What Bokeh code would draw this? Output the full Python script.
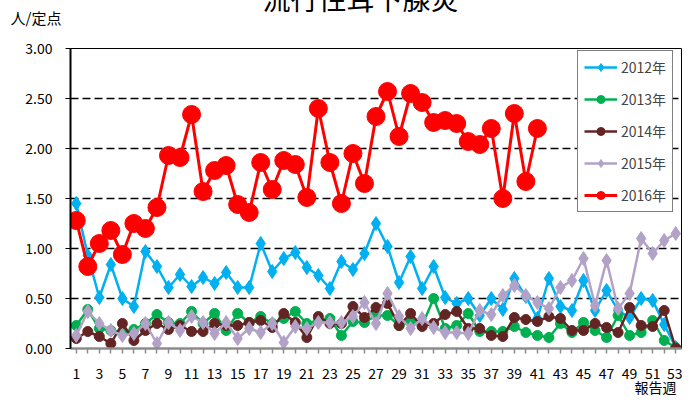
from bokeh.plotting import figure
from bokeh.models import FixedTicker, Legend, LegendItem, Title
from bokeh.embed import file_html
from bokeh.resources import INLINE

weeks = list(range(1, 54))
weeks_2016 = list(range(1, 42))

v2012 = [1.45, 0.93, 0.51, 0.84, 0.50, 0.42, 0.97, 0.82, 0.61, 0.74, 0.62, 0.71, 0.65, 0.76, 0.61, 0.61,
         1.05, 0.77, 0.90, 0.96, 0.81, 0.73, 0.60, 0.87, 0.79, 0.95, 1.25, 1.02, 0.66, 0.92, 0.60, 0.82,
         0.51, 0.45, 0.50, 0.33, 0.50, 0.39, 0.70, 0.52, 0.30, 0.70, 0.42, 0.38, 0.68, 0.38, 0.58, 0.38,
         0.31, 0.50, 0.48, 0.24, 0.01]
v2013 = [0.23, 0.39, 0.20, 0.18, 0.16, 0.19, 0.25, 0.34, 0.26, 0.25, 0.37, 0.25, 0.35, 0.18, 0.35, 0.26,
         0.32, 0.25, 0.30, 0.37, 0.25, 0.28, 0.30, 0.13, 0.27, 0.26, 0.33, 0.33, 0.23, 0.27, 0.23, 0.50,
         0.20, 0.23, 0.35, 0.17, 0.17, 0.17, 0.22, 0.16, 0.13, 0.11, 0.25, 0.16, 0.26, 0.18, 0.11, 0.33,
         0.13, 0.16, 0.28, 0.08, 0.01]
v2014 = [0.10, 0.17, 0.12, 0.05, 0.25, 0.08, 0.18, 0.25, 0.19, 0.23, 0.17, 0.17, 0.25, 0.23, 0.23, 0.26,
         0.28, 0.21, 0.35, 0.26, 0.11, 0.32, 0.25, 0.25, 0.42, 0.31, 0.41, 0.45, 0.23, 0.35, 0.22, 0.25,
         0.34, 0.37, 0.20, 0.20, 0.13, 0.12, 0.31, 0.29, 0.27, 0.32, 0.30, 0.18, 0.18, 0.25, 0.21, 0.16,
         0.41, 0.23, 0.22, 0.38, 0.00]
v2015 = [0.13, 0.37, 0.25, 0.18, 0.13, 0.15, 0.25, 0.05, 0.26, 0.18, 0.32, 0.26, 0.15, 0.26, 0.10, 0.20,
         0.16, 0.25, 0.06, 0.22, 0.20, 0.26, 0.26, 0.26, 0.32, 0.46, 0.25, 0.55, 0.32, 0.20, 0.30, 0.21,
         0.16, 0.16, 0.15, 0.38, 0.34, 0.53, 0.63, 0.53, 0.46, 0.40, 0.61, 0.68, 0.90, 0.43, 0.88, 0.40,
         0.55, 1.10, 0.95, 1.08, 1.15]
v2016 = [1.28, 0.82, 1.05, 1.18, 0.94, 1.25, 1.20, 1.41, 1.93, 1.91, 2.34, 1.57, 1.78, 1.83, 1.44, 1.36,
         1.86, 1.59, 1.88, 1.84, 1.51, 2.40, 1.86, 1.45, 1.95, 1.65, 2.32, 2.57, 2.12, 2.55, 2.46, 2.26,
         2.28, 2.25, 2.07, 2.04, 2.20, 1.50, 2.35, 1.67, 2.20]

series_names = ["2012年", "2013年", "2014年", "2015年", "2016年"]
x_tick_labels = {w: (str(w) if w % 2 == 1 else "") for w in weeks}
y_ticks = [0.0, 0.5, 1.0, 1.5, 2.0, 2.5, 3.0]
y_tick_labels = {t: f"{t:.2f}" for t in y_ticks}

title_text = "流行性耳下腺炎"
y_title = "人/定点"
x_title = "報告週"

FONT = "Noto Sans CJK JP"

p = figure(width=682, height=398, x_range=(0.5, 53.5), y_range=(0, 3),
           output_backend="svg", toolbar_location=None,
           min_border_left=70, min_border_right=1, min_border_top=48, min_border_bottom=50)

p.outline_line_color = "black"
p.outline_line_width = 1
p.xgrid.visible = False
p.ygrid.grid_line_color = "black"
p.ygrid.grid_line_dash = "8 4"
p.ygrid.grid_line_width = 1.4

p.xaxis.ticker = FixedTicker(ticks=weeks)
p.xaxis.major_label_overrides = x_tick_labels
p.xaxis.axis_line_color = "#8c8c8c"
p.xaxis.axis_line_width = 2.5
p.xaxis.major_tick_line_color = "#8c8c8c"
p.xaxis.major_tick_line_width = 1.5
p.xaxis.major_tick_in = 0
p.xaxis.major_tick_out = 5
p.xaxis.minor_tick_line_color = None
p.xaxis.major_label_standoff = 14
p.xaxis.major_label_text_font = FONT
p.xaxis.major_label_text_font_size = "14px"
p.xaxis.major_label_text_color = "black"

p.yaxis.ticker = FixedTicker(ticks=y_ticks)
p.yaxis.major_label_overrides = y_tick_labels
p.yaxis.axis_line_color = "black"
p.yaxis.axis_line_width = 2
p.yaxis.major_tick_line_color = "black"
p.yaxis.major_tick_in = 0
p.yaxis.major_tick_out = 5
p.yaxis.minor_tick_line_color = None
p.yaxis.major_label_standoff = 13
p.yaxis.major_label_text_font = FONT
p.yaxis.major_label_text_font_size = "14px"
p.yaxis.major_label_text_color = "black"

styles = [
    (weeks, v2012, "#00B0F0", "diamond", 14, 2.5),
    (weeks, v2013, "#00B050", "circle", 10, 2.5),
    (weeks, v2014, "#632523", "circle", 10, 2.5),
    (weeks, v2015, "#B3A2C7", "diamond", 14, 2.5),
    (weeks_2016, v2016, "#FF0000", "circle", 18, 3),
]

items = []
for (xs, ys, color, marker, size, lw), name in zip(styles, series_names):
    l = p.line(xs, ys, line_color=color, line_width=lw)
    s = p.scatter(xs, ys, marker=marker, size=size, fill_color=color, line_color=color)
    items.append(LegendItem(label=name, renderers=[l, s]))

legend = Legend(items=items, location=(507, 136))
legend.label_text_font = FONT
legend.label_text_font_size = "14px"
legend.label_height = 20
legend.glyph_height = 20
legend.glyph_width = 33
legend.spacing = 12
legend.padding = 6
legend.margin = 0
legend.label_standoff = 4
legend.border_line_color = "black"
legend.border_line_width = 1
legend.background_fill_alpha = 1
p.add_layout(legend, "center")

# titles: negative standoffs keep their layout size at zero, so the frame keeps its place;
# the main title is shifted upward so that only its lower part shows (as in the reference)
t_main = Title(text=title_text, align="left", offset=192, vertical_align="top", standoff=-142,
               text_font=FONT, text_font_size="28px", text_font_style="normal", text_color="black")
t_y = Title(text=y_title, align="left", offset=-60, vertical_align="top", standoff=-83,
            text_font=FONT, text_font_size="15px", text_font_style="normal", text_color="black")
t_x = Title(text=x_title, align="right", offset=5, vertical_align="bottom", standoff=-13,
            text_font=FONT, text_font_size="14px", text_font_style="normal", text_color="black")
p.add_layout(t_main, "above")
p.add_layout(t_y, "above")
p.add_layout(t_x, "below")

open("out.html", "w").write(file_html(p, INLINE))
